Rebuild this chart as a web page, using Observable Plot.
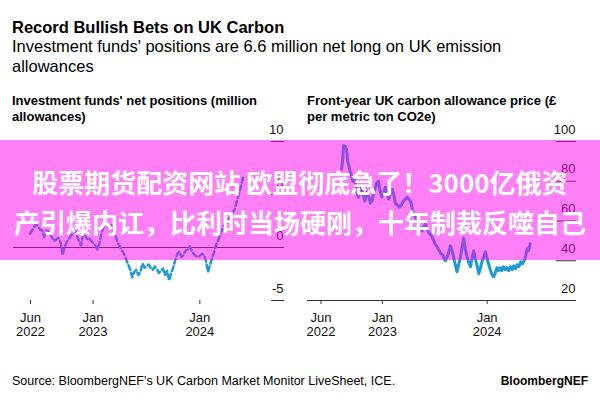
<!DOCTYPE html>
<html><head><meta charset="utf-8">
<script src="https://cdn.jsdelivr.net/npm/d3@7"></script>
<script src="https://cdn.jsdelivr.net/npm/@observablehq/plot@0.6"></script>
<style>
body{margin:0;background:#fff;font-family:"Liberation Sans",Arial,sans-serif;color:#000;}
#root{position:relative;width:600px;height:400px;overflow:hidden;background:#fff;}
.abs{position:absolute;white-space:nowrap;}
#title{left:12px;top:18px;font-size:16.5px;font-weight:bold;}
#subtitle{left:12px;top:36px;font-size:16.5px;line-height:20px;white-space:normal;width:530px;}
.ptitle{top:93px;font-size:13px;font-weight:bold;line-height:16px;white-space:normal;width:268px;}
#overlay{left:0;top:140px;width:600px;height:120px;background:rgba(255,0,240,0.5);color:#fff;
 font-family:"Noto Sans CJK SC",sans-serif;font-weight:bold;font-size:26px;line-height:40px;text-align:center;}
#overlay div{white-space:nowrap;}
#source{left:12px;top:374px;font-size:12.5px;}
#brand{right:12px;top:374px;font-size:12px;font-weight:bold;}
</style></head>
<body><div id="root">
<div class="abs" id="title">Record Bullish Bets on UK Carbon</div>
<div class="abs" id="subtitle">Investment funds' positions are 6.6 million net long on UK emission allowances</div>
<div class="abs ptitle" style="left:12px">Investment funds' net positions (million allowances)</div>
<div class="abs ptitle" style="left:307px">Front-year UK carbon allowance price (£ per metric ton CO2e)</div>
<div class="abs" id="left" style="left:0;top:120px"></div>
<div class="abs" id="right" style="left:300px;top:120px"></div>
<div class="abs" id="source">Source: BloombergNEF's UK Carbon Market Monitor LiveSheet, ICE.</div>
<div class="abs" id="brand">BloombergNEF</div>
<div class="abs" id="overlay"><div style="padding-top:22px">股票期货配资网站 欧盟彻底急了！3000亿俄资</div><div>产引爆内讧，比利时当场硬刚，十年制裁反噬自己</div></div>
</div>
<script>
const netDates = ["2022-05-30","2022-06-06","2022-06-13","2022-06-20","2022-06-27","2022-07-04","2022-07-11","2022-07-18","2022-07-25","2022-08-01","2022-08-08","2022-08-15","2022-08-22","2022-08-29","2022-09-05","2022-09-12","2022-09-19","2022-09-26","2022-10-03","2022-10-10","2022-10-17","2022-10-24","2022-10-31","2022-11-07","2022-11-14","2022-11-21","2022-11-28","2022-12-05","2022-12-12","2022-12-19","2022-12-26","2023-01-02","2023-01-09","2023-01-16","2023-01-23","2023-01-30","2023-02-06","2023-02-13","2023-02-20","2023-02-27","2023-03-06","2023-03-13","2023-03-20","2023-03-27","2023-04-03","2023-04-10","2023-04-17","2023-04-24","2023-05-01","2023-05-08","2023-05-15","2023-05-22","2023-05-29","2023-06-05","2023-06-12","2023-06-19","2023-06-26","2023-07-03","2023-07-10","2023-07-17","2023-07-24","2023-07-31","2023-08-07","2023-08-14","2023-08-21","2023-08-28","2023-09-04","2023-09-11","2023-09-18","2023-09-25","2023-10-02","2023-10-09","2023-10-16","2023-10-23","2023-10-30","2023-11-06","2023-11-13","2023-11-20","2023-11-27","2023-12-04","2023-12-11","2023-12-18","2023-12-25","2024-01-01","2024-01-08","2024-01-15","2024-01-22","2024-01-29","2024-02-05","2024-02-12","2024-02-19","2024-02-26","2024-03-04","2024-03-11","2024-03-18","2024-03-25","2024-04-01","2024-04-08","2024-04-15","2024-04-22","2024-04-29","2024-05-06","2024-05-13","2024-05-20","2024-05-28"];
const netValues = [1.3,1.6,1.9,2.2,2.0,1.7,1.6,1.0,1.6,1.5,1.2,0.9,0.6,0.8,0.9,0.5,-0.7,0.1,0.5,0.8,1.1,1.3,1.6,1.1,0.6,0.2,1.3,1.1,0.8,0.9,0.6,0.4,0.2,-0.2,0.4,1.4,1.9,2.4,1.9,2.0,2.1,1.5,1.0,0.4,0.1,-0.3,-0.6,-1.1,-1.6,-2.1,-2.8,-2.3,-2.1,-2.6,-2.3,-1.5,-1.9,-1.8,-1.6,-1.9,-2.1,-1.8,-2.0,-2.4,-2.2,-2.0,-2.6,-2.2,-3.1,-2.4,-1.9,-1.2,-0.6,-0.4,-0.9,-0.7,-0.3,-0.2,0.1,-0.3,-0.6,-0.8,-0.9,-0.8,-0.6,-0.7,-1.3,-2.3,-1.6,-1.0,-0.4,0.3,0.7,1.3,1.7,2.2,2.3,2.6,2.9,3.3,3.6,4.3,5.0,5.7,6.6];
const priceDates = ["2022-08-12","2022-08-16","2022-08-19","2022-08-24","2022-08-29","2022-09-02","2022-09-06","2022-09-10","2022-09-15","2022-09-20","2022-09-26","2022-09-30","2022-10-05","2022-10-10","2022-10-15","2022-10-21","2022-10-26","2022-11-01","2022-11-06","2022-11-10","2022-11-15","2022-11-20","2022-11-26","2022-12-01","2022-12-06","2022-12-12","2022-12-18","2022-12-23","2022-12-30","2023-01-05","2023-01-11","2023-01-17","2023-01-23","2023-01-29","2023-02-04","2023-02-10","2023-02-15","2023-02-22","2023-03-01","2023-03-08","2023-03-15","2023-03-22","2023-03-28","2023-04-03","2023-04-09","2023-04-15","2023-04-20","2023-04-26","2023-05-02","2023-05-08","2023-05-14","2023-05-19","2023-05-25","2023-05-31","2023-06-06","2023-06-12","2023-06-17","2023-06-23","2023-06-29","2023-07-05","2023-07-11","2023-07-18","2023-07-24","2023-07-30","2023-08-04","2023-08-09","2023-08-15","2023-08-20","2023-08-26","2023-09-01","2023-09-06","2023-09-12","2023-09-18","2023-09-24","2023-09-30","2023-10-06","2023-10-11","2023-10-17","2023-10-23","2023-10-29","2023-11-04","2023-11-09","2023-11-15","2023-11-21","2023-11-27","2023-12-03","2023-12-08","2023-12-14","2023-12-20","2023-12-26","2024-01-01","2024-01-06","2024-01-12","2024-01-18","2024-01-24","2024-01-30","2024-02-04","2024-02-09","2024-02-15","2024-02-21","2024-02-27","2024-03-04","2024-03-10","2024-03-16","2024-03-22","2024-03-28","2024-04-03","2024-04-09","2024-04-15","2024-04-21","2024-04-27","2024-05-03","2024-05-09","2024-05-14","2024-05-19","2024-05-24","2024-05-30"];
const priceValues = [86,92,98,97.5,96,90,88,85,83,80,81,78,74,72,76,77,73,70,74,75,72,69,70,74,76,79,80,76,72,74,77,74,71,74,76,73,69,68,67,68,70,71,72,71,70,66,63.5,62,60,58,56,55,57,58.5,56,54,53.5,52,50,48,47,45,43.5,43,41,40,42,44,47.5,45,42,38,34.5,38,42,47,51.5,46,42,39,37,41,45,41,37.5,33.5,36,39.5,42,44.5,41,38.5,35.5,33,32,34,36.5,35,36.5,35,37,35.5,36.5,35,37,35.5,37.5,36,38,37,39.5,38.5,40,42,46,45,48.5];
const xTickDates = ["2022-06-01","2023-01-01","2024-01-01"];
const xTickLabels = ["Jun\n2022","Jan\n2023","Jan\n2024"];
const netTicks = [-5,0,5,10];
const priceTicks = [20,40,60,80,100];

const net = netDates.map((d,i)=>({date:new Date(d),value:netValues[i]}));
const price = priceDates.map((d,i)=>({date:new Date(d),value:priceValues[i]}));
const tickDates = xTickDates.map(d=>new Date(d));
const fmt = d => xTickLabels[tickDates.findIndex(t=>+t===+d)];
const font = '"Liberation Sans",Arial,sans-serif';
const blue = "#1d9ad6";

function yLabels(ticks){
  return Plot.text(ticks,{y:d=>d,text:d=>String(d),frameAnchor:"right",textAnchor:"end",dy:-12,fontSize:13,fill:"#111"});
}

const left = Plot.plot({
  width:300, height:225, marginLeft:13, marginRight:17, marginTop:21, marginBottom:45,
  style:{fontFamily:font, fontSize:"13px", color:"#111", background:"transparent", overflow:"visible"},
  x:{type:"utc", domain:[new Date("2022-04-04"), new Date("2024-10-13")]},
  y:{domain:[-5,10]},
  marks:[
    Plot.ruleY([0],{stroke:"#333",strokeWidth:1}),
    Plot.axisY(netTicks,{anchor:"right",tickSize:-13,tickPadding:0,tickFormat:()=>"",label:null,stroke:"#333"}),
    yLabels(netTicks),
    Plot.axisX(tickDates,{tickSize:4,tickPadding:7,tickFormat:fmt,lineHeight:1.12,label:null,stroke:"#333",fontSize:13}),
    Plot.line(net,{x:"date",y:"value",stroke:blue,strokeWidth:2.5,strokeDasharray:"5,3"})
  ]
});
document.getElementById("left").appendChild(left);

const right = Plot.plot({
  width:300, height:225, marginLeft:7, marginRight:25, marginTop:21, marginBottom:45,
  style:{fontFamily:font, fontSize:"13px", color:"#111", background:"transparent", overflow:"visible"},
  x:{type:"utc", domain:[new Date("2022-04-15"), new Date("2024-11-04")]},
  y:{domain:[20,100]},
  marks:[
    Plot.ruleY([20],{stroke:"#333",strokeWidth:1}),
    Plot.axisY(priceTicks,{anchor:"right",tickSize:-20,tickPadding:0,tickFormat:()=>"",label:null,stroke:"#333"}),
    yLabels(priceTicks),
    Plot.axisX(tickDates,{tickSize:4,tickPadding:7,tickFormat:fmt,lineHeight:1.12,label:null,stroke:"#333",fontSize:13}),
    Plot.line(price,{x:"date",y:"value",stroke:blue,strokeWidth:3,strokeLinejoin:"round"})
  ]
});
document.getElementById("right").appendChild(right);
</script>
</body></html>
